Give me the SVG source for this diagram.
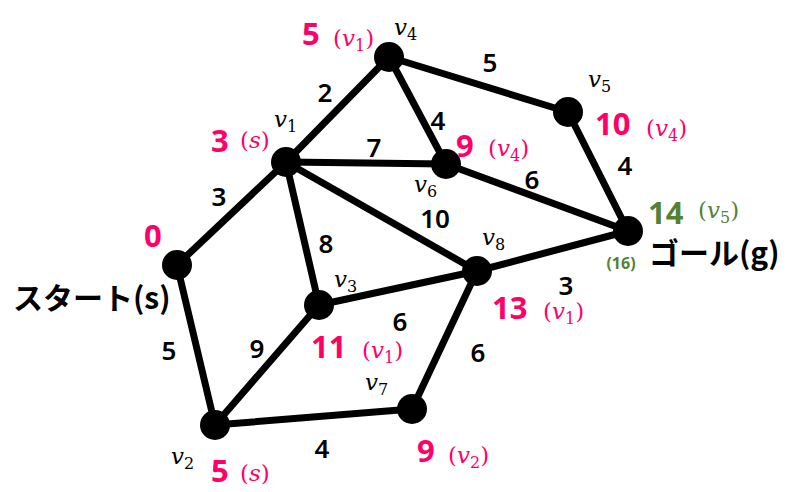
<svg xmlns="http://www.w3.org/2000/svg" width="794" height="492" viewBox="0 0 794 492">
<style>
.e{stroke:#000;stroke-width:7;stroke-linecap:round;fill:none}
.n{fill:#000}
.w{font-family:"Noto Sans","Liberation Sans",sans-serif;font-weight:600;font-size:26px;fill:#000;text-anchor:middle}
.d{font-family:"Noto Sans","Liberation Sans",sans-serif;font-weight:700;font-size:31px;fill:#FF0066}
.p{font-family:"DejaVu Serif","Liberation Serif",serif;font-size:23px;fill:#FF0066}
.g{fill:#548235}
.v{font-family:"DejaVu Serif","Liberation Serif",serif;font-style:italic;font-size:23px;fill:#000}
.s{font-style:normal;font-size:16px}
.ps{font-style:normal;font-size:16px}
.i{font-style:italic}
.jp{font-family:"Noto Sans CJK JP","Noto Sans",sans-serif;font-weight:700;font-size:30px;fill:#000}
</style>
<rect width="794" height="492" fill="#fff"/>
<g id="edges">
<line class="e" x1="177" y1="265" x2="286" y2="162"/>
<line class="e" x1="177" y1="265" x2="215" y2="425"/>
<line class="e" x1="286" y1="162" x2="389" y2="57"/>
<line class="e" x1="286" y1="162" x2="446" y2="164"/>
<line class="e" x1="286" y1="162" x2="319" y2="305"/>
<line class="e" x1="286" y1="162" x2="477" y2="271"/>
<line class="e" x1="389" y1="57" x2="446" y2="164"/>
<line class="e" x1="389" y1="57" x2="568" y2="112"/>
<line class="e" x1="568" y1="112" x2="628" y2="231"/>
<line class="e" x1="446" y1="164" x2="628" y2="231"/>
<line class="e" x1="477" y1="271" x2="628" y2="231"/>
<line class="e" x1="319" y1="305" x2="477" y2="271"/>
<line class="e" x1="319" y1="305" x2="215" y2="425"/>
<line class="e" x1="477" y1="271" x2="412" y2="409"/>
<line class="e" x1="215" y1="425" x2="412" y2="409"/>
</g>
<g id="weights">
<text class="w" x="325" y="102">2</text>
<text class="w" x="490" y="72">5</text>
<text class="w" x="438" y="130">4</text>
<text class="w" x="374" y="157">7</text>
<text class="w" x="219" y="206">3</text>
<text class="w" x="532" y="189">6</text>
<text class="w" x="625" y="175">4</text>
<text class="w" x="435" y="228">10</text>
<text class="w" x="326" y="253">8</text>
<text class="w" x="566" y="295">3</text>
<text class="w" x="400" y="331">6</text>
<text class="w" x="169" y="360">5</text>
<text class="w" x="257" y="358">9</text>
<text class="w" x="478" y="362">6</text>
<text class="w" x="322" y="458">4</text>
</g>
<g id="s">
<circle class="n" cx="177" cy="265" r="15"/>
<text class="d" x="144" y="247">0</text>
<text class="jp" x="13" y="309">スタート(s)</text>
</g>
<g id="v1">
<circle class="n" cx="286" cy="162" r="15"/>
<text class="v" x="274" y="127">v<tspan class="s" dy="5">1</tspan></text>
<text class="d" x="211" y="152">3</text>
<text class="p" x="240" y="148">(<tspan class="i">s</tspan>)</text>
</g>
<g id="v4">
<circle class="n" cx="389" cy="57" r="15"/>
<text class="v" x="394" y="35">v<tspan class="s" dy="5">4</tspan></text>
<text class="d" x="302" y="45">5</text>
<text class="p" x="333" y="46">(<tspan class="i">v</tspan><tspan class="ps" dy="5">1</tspan><tspan dy="-5">)</tspan></text>
</g>
<g id="v5">
<circle class="n" cx="568" cy="112" r="15"/>
<text class="v" x="588" y="87">v<tspan class="s" dy="5">5</tspan></text>
<text class="d" x="595" y="135">10</text>
<text class="p" x="646" y="136">(<tspan class="i">v</tspan><tspan class="ps" dy="5">4</tspan><tspan dy="-5">)</tspan></text>
</g>
<g id="v6">
<circle class="n" cx="446" cy="164" r="15"/>
<text class="v" x="414" y="192">v<tspan class="s" dy="5">6</tspan></text>
<text class="d" x="456" y="157">9</text>
<text class="p" x="488" y="156">(<tspan class="i">v</tspan><tspan class="ps" dy="5">4</tspan><tspan dy="-5">)</tspan></text>
</g>
<g id="g">
<circle class="n" cx="628" cy="231" r="15"/>
<text class="d g" x="648" y="224">14</text>
<text class="p g" x="698" y="218">(<tspan class="i">v</tspan><tspan class="ps" dy="5">5</tspan><tspan dy="-5">)</tspan></text>
<text class="jp" x="649" y="264">ゴール(g)</text>
<text font-family="Noto Sans,Liberation Sans,sans-serif" font-weight="700" font-size="16" fill="#548235" text-anchor="middle" x="621" y="269">(16)</text>
</g>
<g id="v8">
<circle class="n" cx="477" cy="271" r="15"/>
<text class="v" x="482" y="245">v<tspan class="s" dy="5">8</tspan></text>
<text class="d" x="492" y="319">13</text>
<text class="p" x="543" y="319">(<tspan class="i">v</tspan><tspan class="ps" dy="5">1</tspan><tspan dy="-5">)</tspan></text>
</g>
<g id="v3">
<circle class="n" cx="319" cy="305" r="15"/>
<text class="v" x="334" y="287">v<tspan class="s" dy="5">3</tspan></text>
<text class="d" x="311" y="358">11</text>
<text class="p" x="362" y="358">(<tspan class="i">v</tspan><tspan class="ps" dy="5">1</tspan><tspan dy="-5">)</tspan></text>
</g>
<g id="v7">
<circle class="n" cx="412" cy="409" r="15"/>
<text class="v" x="365" y="390">v<tspan class="s" dy="5">7</tspan></text>
<text class="d" x="417" y="462">9</text>
<text class="p" x="448" y="463">(<tspan class="i">v</tspan><tspan class="ps" dy="5">2</tspan><tspan dy="-5">)</tspan></text>
</g>
<g id="v2">
<circle class="n" cx="215" cy="425" r="15"/>
<text class="v" x="171" y="464">v<tspan class="s" dy="5">2</tspan></text>
<text class="d" x="211" y="482">5</text>
<text class="p" x="240" y="481">(<tspan class="i">s</tspan>)</text>
</g>
</svg>
